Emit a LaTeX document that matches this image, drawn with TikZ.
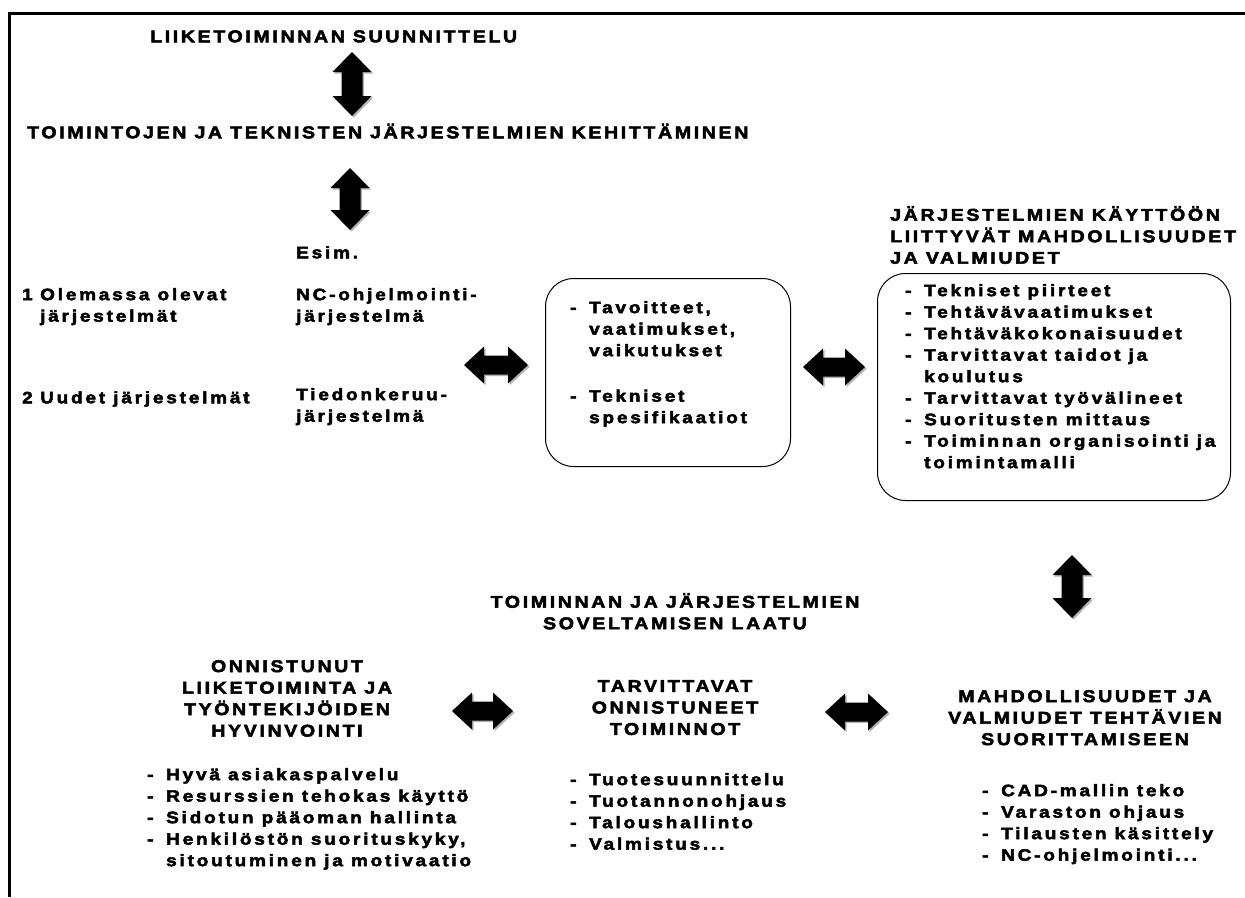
\documentclass[tikz,border=0pt]{standalone}
\usepackage{fontspec}
\setmainfont{Liberation Sans}[LetterSpace=17, FakeStretch=1.15, BoldFeatures={FakeBold=3}]
\newcommand\Dsh{\makebox[19pt][l]{-}}
\newcommand\Ind{\makebox[19pt][l]{}}
% vertical block arrow: name, cx, ytop, ybottom
\newcommand\VArr[4]{%
  \coordinate (#1) at (#2,{(#3+#4)/2});
  \foreach \s/\c in {1.6/gray!60, 0/black}{%
    \fill[\c, shift={(\s,\s)}] (#2,#3) -- (#2+19.5,#3+20) -- (#2+10.5,#3+20) -- (#2+10.5,#4-20)
      -- (#2+19.5,#4-20) -- (#2,#4) -- (#2-19.5,#4-20) -- (#2-10.5,#4-20) -- (#2-10.5,#3+20)
      -- (#2-19.5,#3+20) -- cycle;}}
% horizontal block arrow: name, cy, xleft, xright
\newcommand\HArr[4]{%
  \coordinate (#1) at ({(#3+#4)/2},#2);
  \foreach \s/\c in {1.6/gray!60, 0/black}{%
    \fill[\c, shift={(\s,\s)}] (#3,#2) -- (#3+20,#2-18.5) -- (#3+20,#2-9.5) -- (#4-20,#2-9.5)
      -- (#4-20,#2-18.5) -- (#4,#2) -- (#4-20,#2+18.5) -- (#4-20,#2+9.5) -- (#3+20,#2+9.5)
      -- (#3+20,#2+18.5) -- cycle;}}
\begin{document}
\begin{tikzpicture}[x=1pt,y=-1pt,
  hd/.style={font=\fontsize{17}{21.5}\selectfont\bfseries\addfontfeature{LetterSpace=15.5}, inner sep=0pt, align=center, execute at begin node=\strut},
  tx/.style={font=\fontsize{16.5}{21.5}\selectfont\bfseries, inner sep=0pt, align=left, execute at begin node=\strut},
  box/.style={draw, line width=1pt, rounded corners=28pt, inner sep=0pt, anchor=north west}]
\useasboundingbox (0,0) rectangle (1245,897);
\fill[white] (0,0) rectangle (1245,897);
\coordinate (fa) at (8,13.5);
\coordinate (fb) at (1245,13.5);
\coordinate (fc) at (9.5,12);
\coordinate (fd) at (9.5,897);
\draw[line width=3pt] (fa) -- (fb);
\draw[line width=3pt] (fc) -- (fd);

% top part  (y values = first baseline - 15)
\node[hd, anchor=north west] (t1) at (150,{42-15}) {LIIKETOIMINNAN SUUNNITTELU};
\node[hd, anchor=north west] (t2) at (27,{138-15}) {TOIMINTOJEN JA TEKNISTEN JÄRJESTELMIEN KEHITTÄMINEN};
\VArr{a1}{352}{52}{116}
\VArr{a2}{350}{168}{230}
\node[tx, anchor=north west] (esim) at (296,{258-15}) {Esim.};
\node[tx, anchor=north west] (l1) at (22,{303-15}) {\makebox[18pt][l]{1}Olemassa olevat\\\makebox[18pt][l]{}järjestelmät};
\node[tx, anchor=north west] (l2) at (22,{403-15}) {\makebox[18pt][l]{2}Uudet järjestelmät};
\node[tx, anchor=north west] (n1) at (296,{303-15}) {NC-ohjelmointi-\\järjestelmä};
\node[tx, anchor=north west] (n2) at (296,{403-15}) {Tiedonkeruu-\\järjestelmä};

% box 1
\node[box, minimum width=245pt, minimum height=188pt] (b1) at (545,278) {};
\node[tx, anchor=north west] (b1t) at (570,{316-15}) {\Dsh Tavoitteet,\\\Ind vaatimukset,\\\Ind vaikutukset\\[24pt]\Dsh Tekniset\\\Ind spesifikaatiot};
\HArr{h1}{365}{464}{528}
\HArr{h2}{367}{803}{865}

% box 2
\node[hd, anchor=north west, align=left] (h2t) at (890,{221-15}) {JÄRJESTELMIEN KÄYTTÖÖN\\LIITTYVÄT MAHDOLLISUUDET\\JA VALMIUDET};
\node[box, minimum width=353pt, minimum height=227pt] (b2) at (877,273) {};
\node[tx, anchor=north west] (b2t) at (905,{299-15}) {\Dsh Tekniset piirteet\\\Dsh Tehtävävaatimukset\\\Dsh Tehtäväkokonaisuudet\\\Dsh Tarvittavat taidot ja\\\Ind koulutus\\\Dsh Tarvittavat työvälineet\\\Dsh Suoritusten mittaus\\\Dsh Toiminnan organisointi ja\\\Ind toimintamalli};
\VArr{a3}{1072}{555}{618}

% bottom part
\node[hd, anchor=north] (q) at (675,{608-15}) {TOIMINNAN JA JÄRJESTELMIEN\\SOVELTAMISEN LAATU};
\node[hd, anchor=north] (o) at (287,{675-15}) {ONNISTUNUT\\LIIKETOIMINTA JA\\TYÖNTEKIJÖIDEN\\HYVINVOINTI};
\node[hd, anchor=north] (tr) at (675,{695-15}) {TARVITTAVAT\\ONNISTUNEET\\TOIMINNOT};
\node[hd, anchor=north] (m) at (1085,{705-15}) {MAHDOLLISUUDET JA\\VALMIUDET TEHTÄVIEN\\SUORITTAMISEEN};
\HArr{h3}{711}{452}{513}
\HArr{h4}{712}{825}{888}
\node[tx, anchor=north west] (ol) at (147,{783-15}) {\Dsh Hyvä asiakaspalvelu\\\Dsh Resurssien tehokas käyttö\\\Dsh Sidotun pääoman hallinta\\\Dsh Henkilöstön suorituskyky,\\\Ind sitoutuminen ja motivaatio};
\node[tx, anchor=north west] (tl) at (570,{788-15}) {\Dsh Tuotesuunnittelu\\\Dsh Tuotannonohjaus\\\Dsh Taloushallinto\\\Dsh Valmistus...};
\node[tx, anchor=north west] (ml) at (982,{799-15}) {\Dsh CAD-mallin teko\\\Dsh Varaston ohjaus\\\Dsh Tilausten käsittely\\\Dsh NC-ohjelmointi...};
\end{tikzpicture}
\end{document}
